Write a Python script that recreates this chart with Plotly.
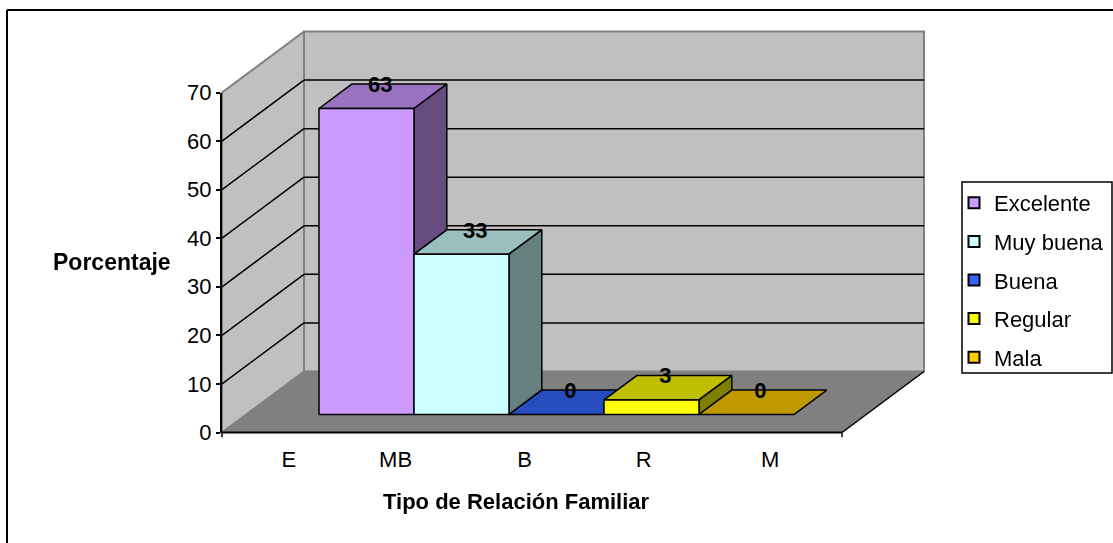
import plotly.graph_objects as go

# Data
series_names = ["Excelente", "Muy buena", "Buena", "Regular", "Mala"]
percentages = [63, 33, 0, 3, 0]
category_labels = ["E", "MB", "B", "R", "M"]
category_label_positions = [0.04, 0.90, 1.94, 2.90, 3.92]
value_ticks = [0, 10, 20, 30, 40, 50, 60, 70]

front_colors = ["#CC99FF", "#CCFFFF", "#2A52D6", "#FFFF00", "#FFCC00"]
legend_colors = ["#CC99FF", "#CCFFFF", "#3366FF", "#FFFF00", "#FFCC00"]
top_colors = ["#9973BF", "#99BFBF", "#264CBF", "#BFBF00", "#BF9900"]
side_colors = ["#664C80", "#668080", "#1A3380", "#808000", "#806600"]

W, H = 1113, 543
X_PX, X0_PX = 95.0, 319.0          # pixels per bar, left of first bar
Y_PX, Y0_PX = 340.0 / 70, 432.5    # pixels per percent, baseline
DX, DY = 82.0 / X_PX, 61.0 / Y_PX  # full depth of the floor in axis units
D0, D1 = 0.295, 0.695              # depth span of the bars
XS = -D0 * DX                      # x of first bar on the front plane
FL, FR = (222 - X0_PX) / X_PX, (842 - X0_PX) / X_PX
V_MAX = 70


def proj(x, v, d):
    return x + d * DX, v + d * DY


def poly(points, fill, line_color="#000000", width=1.5):
    xs, ys = zip(*(proj(*p) for p in points + points[:1]))
    return go.Scatter(x=xs, y=ys, mode="lines", fill="toself", fillcolor=fill,
                      line=dict(color=line_color, width=width), hoverinfo="skip",
                      showlegend=False, xaxis="x", yaxis="y")


def seg(p, q, color="#000000", width=1.5):
    xs, ys = zip(proj(*p), proj(*q))
    return go.Scatter(x=xs, y=ys, mode="lines", line=dict(color=color, width=width),
                      hoverinfo="skip", showlegend=False, xaxis="x", yaxis="y")


fig = go.Figure()

# Walls and floor
fig.add_trace(poly([(FL, 0, 0), (FL, V_MAX, 0), (FL, V_MAX, 1), (FL, 0, 1)], "#C0C0C0", "#808080", 2))
fig.add_trace(poly([(FL, 0, 1), (FL, V_MAX, 1), (FR, V_MAX, 1), (FR, 0, 1)], "#C0C0C0", "#808080", 2))
fig.add_trace(poly([(FL, 0, 0), (FR, 0, 0), (FR, 0, 1), (FL, 0, 1)], "#808080", "#808080", 1))

# Gridlines
for v in value_ticks[1:-1]:
    fig.add_trace(seg((FL, v, 0), (FL, v, 1)))
    fig.add_trace(seg((FL, v, 1), (FR, v, 1)))
fig.add_trace(seg((FL, 0, 0), (FR, 0, 0), width=2))
fig.add_trace(seg((FR, 0, 0), (FR, 0, 1)))
fig.add_trace(seg((FR, 0, 0), (FR, -1, 0)))
fig.add_trace(seg((FL, 0, 0), (FL, -1, 0)))

# Bars
for i, v in enumerate(percentages):
    a, b = XS + i, XS + i + 1
    fig.add_trace(poly([(a, v, D0), (b, v, D0), (b, v, D1), (a, v, D1)], top_colors[i]))
    if v > 0:
        fig.add_trace(poly([(b, 0, D0), (b, v, D0), (b, v, D1), (b, 0, D1)], side_colors[i]))
        fig.add_trace(poly([(a, 0, D0), (b, 0, D0), (b, v, D0), (a, v, D0)], front_colors[i]))

# Data labels
lab = [proj(XS + i + 0.3, v - 0.45, D1) for i, v in enumerate(percentages)]
fig.add_trace(go.Scatter(x=[p[0] for p in lab], y=[p[1] for p in lab], mode="text",
                         text=[str(v) for v in percentages], textposition="middle center",
                         textfont=dict(family="Liberation Sans", size=22, color="#000000"),
                         texttemplate="<b>%{text}</b>", hoverinfo="skip", showlegend=False,
                         xaxis="x", yaxis="y"))

# Real axes for values and category labels
fig.add_trace(go.Scatter(x=category_label_positions, y=percentages, mode="markers", opacity=0,
                         hoverinfo="skip", showlegend=False, xaxis="x2", yaxis="y2"))

# Legend entries
for i, name in enumerate(series_names):
    fig.add_trace(go.Scatter(x=[None], y=[None], mode="markers", name=name, legendgroup=name,
                             marker=dict(symbol="square", size=11, color=legend_colors[i],
                                         line=dict(color="#000000", width=2)),
                             xaxis="x", yaxis="y"))

FONT = "Liberation Sans"
fig.update_layout(
    width=W, height=H, margin=dict(l=0, r=0, t=0, b=0, autoexpand=False), paper_bgcolor="white",
    plot_bgcolor="rgba(0,0,0,0)",
    font=dict(family=FONT, size=22, color="#000000"),
    xaxis=dict(domain=[0, 1], range=[-X0_PX / X_PX, (W - X0_PX) / X_PX], visible=False, fixedrange=True),
    yaxis=dict(domain=[0, 1], range=[(Y0_PX - H) / Y_PX, Y0_PX / Y_PX], visible=False, fixedrange=True),
    xaxis2=dict(domain=[222 / W, 842 / W], range=[-0.5, 4.5], anchor="y2", showline=False, showgrid=False,
                zeroline=False, tickmode="array", tickvals=category_label_positions, ticktext=category_labels,
                ticks="outside", ticklen=7, tickcolor="rgba(0,0,0,0)", tickfont=dict(family=FONT, size=22),
                fixedrange=True),
    yaxis2=dict(domain=[(H - Y0_PX) / H, (H - Y0_PX + 340) / H], range=[0, 70], anchor="x2", side="left",
                tickmode="array", tickvals=value_ticks, showline=True, linecolor="#000000", linewidth=2,
                ticks="outside", ticklen=4, tickwidth=2, tickcolor="#000000", showgrid=False, zeroline=False,
                tickfont=dict(family=FONT, size=22), fixedrange=True),
    legend=dict(x=963 / W, y=(H - 182) / H, xanchor="left", yanchor="top", bgcolor="rgba(0,0,0,0)",
                borderwidth=0, tracegroupgap=7, indentation=-9, font=dict(family=FONT, size=22),
                itemclick=False, itemdoubleclick=False),
    shapes=[
        dict(type="rect", xref="paper", yref="paper", x0=962 / W, x1=1112 / W, y0=(H - 373) / H, y1=(H - 182) / H,
             line=dict(color="#000000", width=1.5), fillcolor="white", layer="below"),
        dict(type="line", xref="paper", yref="paper", x0=7 / W, x1=1, y0=(H - 10) / H, y1=(H - 10) / H,
             line=dict(color="#000000", width=2)),
        dict(type="line", xref="paper", yref="paper", x0=7 / W, x1=7 / W, y0=0, y1=(H - 10) / H,
             line=dict(color="#000000", width=2)),
    ],
    annotations=[
        dict(text="<b>Porcentaje</b>", xref="paper", yref="paper", x=112 / W, y=(H - 262) / H,
             showarrow=False, xanchor="center", yanchor="middle", font=dict(family=FONT, size=23)),
        dict(text="<b>Tipo de Relación Familiar</b>", xref="paper", yref="paper", x=516 / W, y=(H - 501) / H,
             showarrow=False, xanchor="center", yanchor="middle", font=dict(family=FONT, size=22)),
    ],
    hovermode=False,
)

fig.write_html("out.html", config=dict(displayModeBar=False, responsive=False),
               post_script="document.body.style.margin='0';")
